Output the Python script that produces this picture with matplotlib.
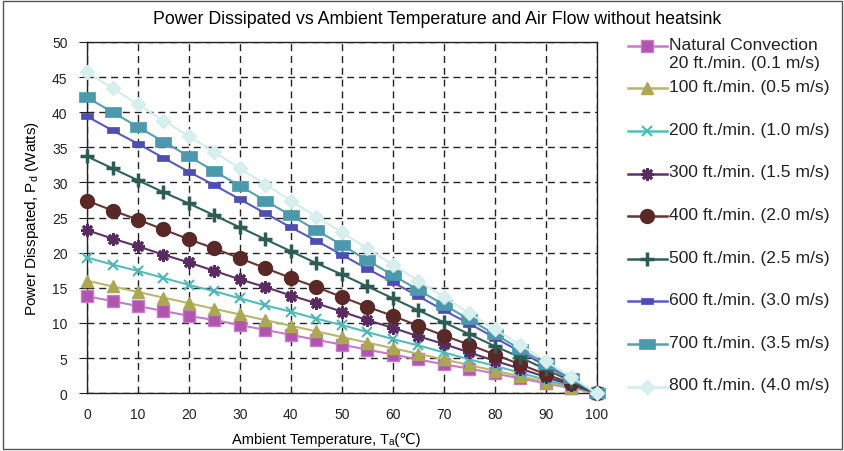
import matplotlib
matplotlib.use("Agg")
import matplotlib.pyplot as plt
from matplotlib.patches import Rectangle
from matplotlib.path import Path

plt.rcParams['font.family'] = ['Liberation Sans', 'DejaVu Sans', 'Noto Sans CJK SC']

temps = [0, 5, 10, 15, 20, 25, 30, 35, 40, 45, 50, 55, 60, 65, 70, 75, 80, 85, 90, 95, 100]

natural = [13.8, 13.1, 12.4, 11.7, 11.0, 10.4, 9.7, 9.0, 8.3, 7.6, 6.9, 6.2, 5.5, 4.8, 4.1, 3.5, 2.8, 2.1, 1.4, 0.7, 0.0]
ft100 = [16.0, 15.2, 14.4, 13.6, 12.8, 12.0, 11.2, 10.4, 9.6, 8.8, 8.0, 7.2, 6.4, 5.6, 4.8, 4.0, 3.2, 2.4, 1.6, 0.8, 0.0]
ft200 = [19.3, 18.3, 17.4, 16.4, 15.4, 14.5, 13.5, 12.5, 11.6, 10.6, 9.7, 8.7, 7.7, 6.8, 5.8, 4.8, 3.9, 2.9, 1.9, 1.0, 0.0]
ft300 = [23.2, 22.0, 20.9, 19.7, 18.6, 17.4, 16.2, 15.1, 13.9, 12.8, 11.6, 10.4, 9.3, 8.1, 7.0, 5.8, 4.6, 3.5, 2.3, 1.2, 0.0]
ft400 = [27.4, 26.0, 24.7, 23.3, 21.9, 20.6, 19.2, 17.8, 16.4, 15.1, 13.7, 12.3, 11.0, 9.6, 8.2, 6.9, 5.5, 4.1, 2.7, 1.4, 0.0]
ft500 = [33.7, 32.0, 30.3, 28.6, 27.0, 25.3, 23.6, 21.9, 20.2, 18.5, 16.9, 15.2, 13.5, 11.8, 10.1, 8.4, 6.7, 5.1, 3.4, 1.7, 0.0]
ft600 = [39.4, 37.4, 35.5, 33.5, 31.5, 29.6, 27.6, 25.6, 23.6, 21.7, 19.7, 17.7, 15.8, 13.8, 11.8, 9.9, 7.9, 5.9, 3.9, 2.0, 0.0]
ft700 = [42.1, 40.0, 37.9, 35.8, 33.7, 31.6, 29.5, 27.4, 25.3, 23.2, 21.1, 18.9, 16.8, 14.7, 12.6, 10.5, 8.4, 6.3, 4.2, 2.1, 0.0]
ft800 = [45.7, 43.4, 41.1, 38.8, 36.6, 34.3, 32.0, 29.7, 27.4, 25.1, 22.9, 20.6, 18.3, 16.0, 13.7, 11.4, 9.1, 6.9, 4.6, 2.3, 0.0]

labels = ["Natural Convection\n20 ft./min. (0.1 m/s)",
          "100 ft./min. (0.5 m/s)", "200 ft./min. (1.0 m/s)",
          "300 ft./min. (1.5 m/s)", "400 ft./min. (2.0 m/s)",
          "500 ft./min. (2.5 m/s)", "600 ft./min. (3.0 m/s)",
          "700 ft./min. (3.5 m/s)", "800 ft./min. (4.0 m/s)"]
series = [natural, ft100, ft200, ft300, ft400, ft500, ft600, ft700, ft800]

# wide rectangle marker (Excel-like stretched squares)
rect = Path([(-1.0, -0.6), (1.0, -0.6), (1.0, 0.6), (-1.0, 0.6), (-1.0, -0.6)],
            [Path.MOVETO, Path.LINETO, Path.LINETO, Path.LINETO, Path.CLOSEPOLY])

styles = [
    dict(color="#C77AC7", marker="s", ms=9, mfc="#B054B0", mec="#C77AC7", mew=1),
    dict(color="#BAB66A", marker="^", ms=9, mfc="#ABA752", mec="#ABA752", mew=1),
    dict(color="#55BCBC", marker="x", ms=7, mfc="none", mec="#4DB8B8", mew=1.5),
    dict(color="#5E3268", marker=(8, 2, 0), ms=9, mfc="none", mec="#5A2A62", mew=2),
    dict(color="#643634", marker="o", ms=10, mfc="#5A2826", mec="#5A2826", mew=1),
    dict(color="#30615A", marker="+", ms=10, mfc="#2D5C55", mec="#2D5C55", mew=2.5),
    dict(color="#5A5AB8", marker=rect, ms=8, mfc="#4E4EB0", mec="#4E4EB0", mew=0.5),
    dict(color="#56A0B2", marker=rect, ms=11, mfc="#4C98AC", mec="#4C98AC", mew=0.5),
    dict(color="#D3ECEC", marker="D", ms=7, mfc="#D8EFEF", mec="#D3ECEC", mew=1),
]

fig = plt.figure(figsize=(8.45, 4.52), dpi=100)
ax = fig.add_axes([0.103, 0.128, 0.603, 0.777])

for vals, st in zip(series, styles):
    ax.plot(temps, vals, color=st["color"], lw=1.5, marker=st["marker"],
            ms=st["ms"], mfc=st["mfc"], mec=st["mec"], mew=st["mew"],
            clip_on=False, zorder=3)

ax.set_xlim(0, 100)
ax.set_ylim(0, 50)
ax.set_xticks(range(0, 101, 10))
ax.set_yticks(range(0, 51, 5))
ax.grid(True, color="#222222", linestyle=(0, (5, 3.5)), lw=1)
ax.set_axisbelow(True)
for s in ax.spines.values():
    s.set_color("#222222")
    s.set_linewidth(1)
ax.tick_params(axis="y", direction="out", length=6, labelsize=10, colors="#222222", pad=8)
ax.tick_params(axis="x", length=0, labelsize=10, colors="#222222", pad=10)

ax.set_xlabel("Ambient Temperature, T\u2090(\u2103)", fontsize=10.5, labelpad=8)
ax.xaxis.label.set_x(0.47)
ax.set_ylabel("Power Disspated, P$_\\mathregular{d}$ (Watts)", fontsize=11, labelpad=8)
fig.text(0.517, 0.957, "Power Dissipated vs Ambient Temperature and Air Flow without heatsink",
         ha="center", va="center", fontsize=12.8)

# legend drawn by hand so the two-line entry keeps its handle on the first line
lax = fig.add_axes([0.742, 0.0, 0.258, 1.0])
lax.set_xlim(0, 218)
lax.set_ylim(452, 0)
lax.axis("off")
for i, (lab, st) in enumerate(zip(labels, styles)):
    y = 46.7 + i * 42.6
    lax.plot([1, 20.5, 40], [y, y, y], color=st["color"], lw=1.8, marker=st["marker"],
             markevery=[1], ms=st["ms"], mfc=st["mfc"], mec=st["mec"], mew=st["mew"])
    lax.text(42, y - 9, lab, ha="left", va="top", fontsize=12.6, linespacing=1.3,
             color="#222222")

fig.add_artist(Rectangle((0.003, 0.004), 0.994, 0.992, transform=fig.transFigure,
                         fill=False, ec="#555555", lw=1))

fig.savefig("out.png", dpi=100)
